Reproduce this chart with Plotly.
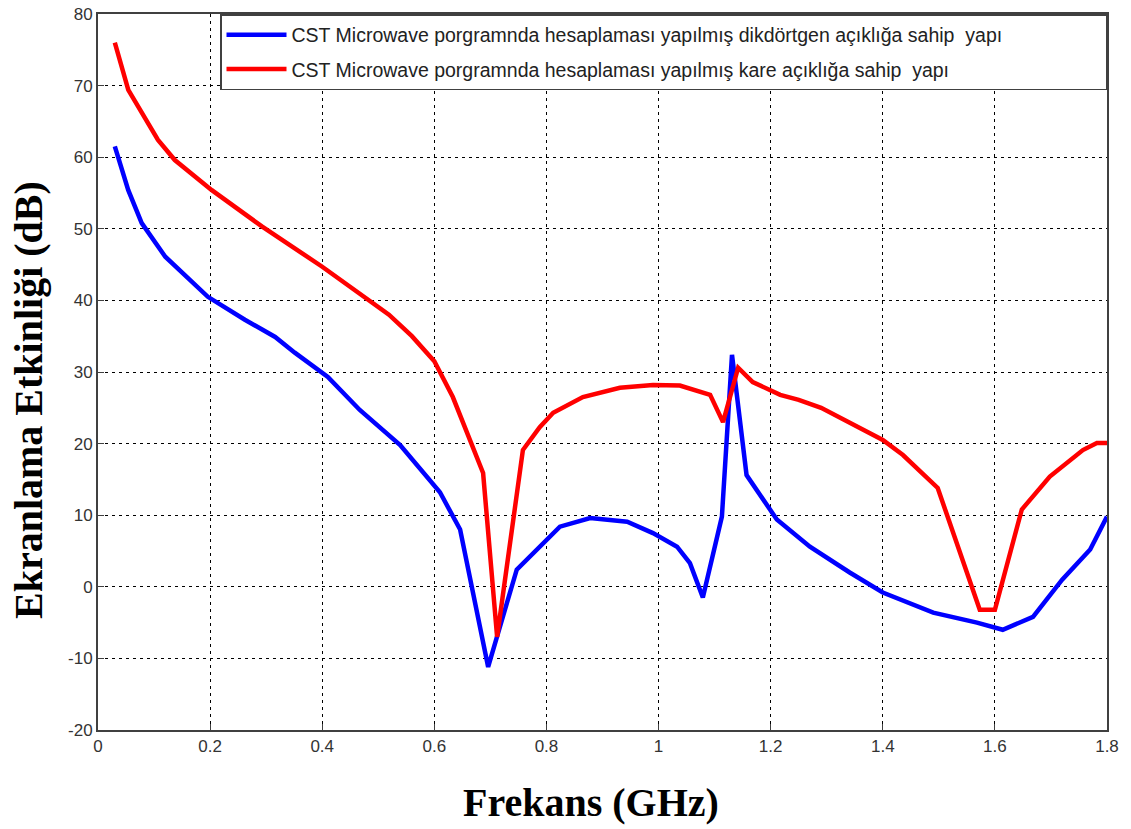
import plotly.graph_objects as go

# Blue: rectangular aperture
freq_blue = [0.03, 0.054, 0.078, 0.12, 0.196, 0.262, 0.316, 0.351, 0.41, 0.467, 0.539,
             0.592, 0.61, 0.646, 0.696, 0.747, 0.80, 0.824, 0.878, 0.944, 0.99, 1.033,
             1.056, 1.079, 1.113, 1.131, 1.157, 1.211, 1.27, 1.341, 1.40, 1.49, 1.568,
             1.614, 1.668, 1.72, 1.77, 1.80]
se_blue = [61.5, 55.4, 50.8, 46.1, 40.5, 37.3, 34.9, 32.7, 29.3, 24.7, 19.8,
           14.9, 13.2, 8.0, -11.2, 2.4, 6.6, 8.4, 9.6, 9.1, 7.5, 5.6,
           3.3, -1.5, 9.8, 32.4, 15.6, 9.4, 5.6, 2.0, -0.8, -3.6, -5.0,
           -6.0, -4.2, 1.0, 5.2, 9.8]

# Red: square aperture
freq_red = [0.03, 0.054, 0.107, 0.137, 0.203, 0.293, 0.40, 0.482, 0.519, 0.56, 0.60,
            0.633, 0.687, 0.712, 0.758, 0.788, 0.812, 0.865, 0.931, 0.99, 1.038, 1.092,
            1.115, 1.142, 1.168, 1.217, 1.25, 1.29, 1.341, 1.40, 1.436, 1.498, 1.573,
            1.60, 1.648, 1.698, 1.757, 1.782, 1.80]
se_red = [76.0, 69.4, 62.4, 59.6, 55.4, 50.3, 44.7, 40.1, 38.0, 35.0, 31.5,
          26.5, 15.9, -7.0, 19.1, 22.3, 24.3, 26.5, 27.8, 28.2, 28.1, 26.8,
          23.0, 30.6, 28.6, 26.8, 26.1, 25.0, 22.9, 20.5, 18.4, 13.8, -3.2,
          -3.2, 10.8, 15.4, 19.1, 20.1, 20.1]

name_blue = "CST Microwave porgramnda hesaplaması yapılmış dikdörtgen açıklığa sahip  yapı"
name_red = "CST Microwave porgramnda hesaplaması yapılmış kare açıklığa sahip  yapı"

x_ticks = [0, 0.2, 0.4, 0.6, 0.8, 1.0, 1.2, 1.4, 1.6, 1.8]
x_tick_labels = ["0", "0.2", "0.4", "0.6", "0.8", "1", "1.2", "1.4", "1.6", "1.8"]
y_ticks = [-20, -10, 0, 10, 20, 30, 40, 50, 60, 70, 80]
y_tick_labels = ["-20", "-10", "0", "10", "20", "30", "40", "50", "60", "70", "80"]

x_title = "Frekans (GHz)"
y_title = "Ekranlama Etkinliği (dB)"

pad = "&nbsp;" * 18

fig = go.Figure()
fig.add_trace(go.Scatter(x=freq_blue, y=se_blue, mode="lines", name=name_blue + pad,
                         legendgroup="a", line=dict(color="#0000FF", width=4.5)))
fig.add_trace(go.Scatter(x=freq_red, y=se_red, mode="lines", name=name_red,
                         legendgroup="b", line=dict(color="#FF0000", width=4.5)))

axis_common = dict(
    showgrid=True, gridcolor="black", gridwidth=1, griddash="3px,4px",
    zeroline=False, showline=True, linecolor="#404040", linewidth=2, mirror=True,
    ticks="inside", ticklen=6, tickcolor="#404040", automargin=False,
    ticklabeloverflow="allow",
    tickfont=dict(family="Liberation Sans, Arial", size=17, color="#333333"),
)

fig.update_xaxes(range=[0, 1.8], tickvals=x_ticks, ticktext=x_tick_labels, **axis_common)
fig.update_yaxes(range=[-20, 80], tickvals=y_ticks, ticktext=y_tick_labels, **axis_common)

# plot area spans x 98..1107, y 14..730 of 1131x829
title_font = dict(family="Liberation Serif, Times New Roman", size=40, color="black")
fig.add_annotation(text="<b>" + y_title + "</b>", xref="paper", yref="paper",
                   x=(28 - 98) / 1009, y=(730 - 400) / 716, xanchor="center", yanchor="middle",
                   textangle=-90, showarrow=False, font=title_font)
fig.add_annotation(text="<b>" + x_title + "</b>", xref="paper", yref="paper",
                   x=(591 - 98) / 1009, y=(730 - 802) / 716, xanchor="center", yanchor="middle",
                   showarrow=False, font=title_font)

fig.update_layout(
    width=1131, height=829,
    margin=dict(l=98, r=24, t=14, b=99),
    paper_bgcolor="white", plot_bgcolor="white",
    showlegend=True,
    legend=dict(x=1, xanchor="right", y=1, yanchor="top",
                bgcolor="white", bordercolor="#404040", borderwidth=1.5,
                font=dict(family="Liberation Sans, Arial", size=19.5, color="#222222"),
                itemwidth=60, tracegroupgap=6),
)

fig.write_html("out.html", config={"displayModeBar": False},
               post_script="document.body.style.margin='0';document.body.style.overflow='hidden';")
